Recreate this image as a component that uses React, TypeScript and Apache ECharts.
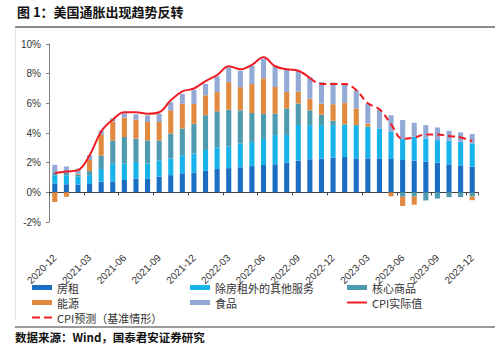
import React, { useEffect, useRef } from "react";
import * as echarts from "echarts";

const months = [
  "2020-12", "2021-01", "2021-02", "2021-03", "2021-04", "2021-05", "2021-06", "2021-07", "2021-08", "2021-09", "2021-10", "2021-11",
  "2021-12", "2022-01", "2022-02", "2022-03", "2022-04", "2022-05", "2022-06", "2022-07", "2022-08", "2022-09", "2022-10", "2022-11",
  "2022-12", "2023-01", "2023-02", "2023-03", "2023-04", "2023-05", "2023-06", "2023-07", "2023-08", "2023-09", "2023-10", "2023-11",
  "2023-12",
];

const rent = [0.6, 0.55, 0.52, 0.56, 0.72, 0.73, 0.83, 0.94, 0.94, 1.05, 1.16, 1.28, 1.34, 1.45, 1.57, 1.63, 1.68, 1.77, 1.84, 1.89, 2.0, 2.14, 2.23, 2.27, 2.33, 2.38, 2.29, 2.29, 2.29, 2.25, 2.18, 2.14, 2.07, 2.0, 1.89, 1.82, 1.73];
const otherServices = [0.55, 0.6, 0.55, 0.6, 0.85, 1.2, 1.1, 1.1, 1.0, 1.1, 1.12, 1.22, 1.28, 1.4, 1.45, 1.47, 1.61, 1.63, 1.75, 1.97, 1.86, 2.4, 2.3, 2.26, 2.2, 2.2, 2.24, 2.13, 2.02, 1.83, 1.42, 1.61, 1.57, 1.52, 1.59, 1.59, 1.57];
const coreGoods = [0.15, 0.15, 0.12, 0.27, 0.9, 1.55, 1.8, 1.58, 1.56, 1.35, 1.68, 1.8, 2.0, 2.35, 2.44, 2.47, 2.24, 1.95, 1.7, 1.45, 1.79, 1.45, 1.0, 0.7, 0.3, 0, 0, 0, 0, 0, -0.3, -0.28, -0.55, -0.42, -0.33, -0.32, -0.28];
const energy = [-0.65, -0.3, 0.05, 0.75, 1.4, 1.3, 1.3, 1.28, 1.24, 1.24, 1.57, 1.67, 1.34, 1.34, 1.3, 1.86, 1.56, 1.95, 2.4, 1.79, 1.12, 0.8, 0.78, 0.75, 1.11, 1.45, 1.12, 0.22, 0, -0.27, -0.62, -0.55, 0, 0, 0, 0, -0.25];
const food = [0.55, 0.45, 0.36, 0.32, 0.3, 0.22, 0.3, 0.36, 0.45, 0.56, 0.55, 0.67, 0.94, 0.77, 1.05, 1.0, 1.11, 1.25, 1.3, 1.45, 1.5, 1.4, 1.45, 1.46, 1.46, 1.34, 1.23, 1.34, 1.27, 1.12, 1.27, 0.94, 0.89, 0.85, 0.67, 0.63, 0.63];
const cpiActual = [1.3, 1.4, 1.5, 2.5, 4.1, 4.9, 5.4, 5.4, 5.3, 5.4, 6.2, 6.8, 7.0, 7.5, 7.9, 8.5, 8.3, 8.6, 9.1, 8.5, 8.3, 8.2, 7.7, null, null, null, null, null, null, null, null, null, null, null, null, null, null];
const cpiForecast = [null, null, null, null, null, null, null, null, null, null, null, null, null, null, null, null, null, null, null, null, null, null, 7.7, 7.3, 7.3, 7.3, 6.9, 6.0, 5.6, 4.6, 3.6, 3.7, 3.9, 3.9, 3.8, 3.7, 3.45];

const CJK = '"Noto Sans CJK SC", "Liberation Sans", sans-serif';
const LAT = '"Liberation Sans", Arial, sans-serif';

const SOLID_ICON = "path://M0,0h20v2h-20z";
const DASH_ICON = "path://M0,0h8v2h-8zM12,0h8v2h-8z";

export default function App() {
  const ref = useRef<HTMLDivElement>(null);
  useEffect(() => {
    const chart = echarts.init(ref.current!, null, { renderer: "svg" });
    const barBase = { type: "bar", stack: "total", barWidth: "44%" };
    const legendBase = {
      orient: "vertical",
      top: 277,
      itemGap: 4,
      itemWidth: 20,
      itemHeight: 5,
      textStyle: { fontSize: 11, color: "#333", fontFamily: CJK, lineHeight: 11 },
    };
    const red = "#F01C24";
    chart.setOption({
      animation: false,
      grid: { left: 49, right: 22, top: 44, bottom: 127 },
      legend: [
        {
          ...legendBase,
          left: 27,
          data: [
            { name: "房租", icon: "rect" },
            { name: "能源", icon: "rect" },
            { name: "CPI预测（基准情形）", icon: DASH_ICON, itemStyle: { color: red } },
          ],
        },
        { ...legendBase, left: 185, data: [{ name: "除房租外的其他服务", icon: "rect" }, { name: "食品", icon: "rect" }] },
        {
          ...legendBase,
          left: 342,
          data: [
            { name: "核心商品", icon: "rect" },
            { name: "CPI实际值", icon: SOLID_ICON, itemStyle: { color: red } },
          ],
        },
      ],
      xAxis: {
        type: "category",
        data: months,
        boundaryGap: true,
        axisLine: { onZero: true, lineStyle: { color: "#404040", width: 1 } },
        axisTick: { show: true, interval: 2, length: 3, lineStyle: { color: "#404040" } },
        axisLabel: { interval: 2, rotate: 45, margin: 34, fontSize: 10, color: "#333", fontFamily: LAT },
      },
      yAxis: {
        type: "value",
        min: -2,
        max: 10,
        interval: 2,
        axisLine: { show: true, lineStyle: { color: "#808080" } },
        axisTick: { show: true, length: 3, lineStyle: { color: "#808080" } },
        splitLine: { show: false },
        axisLabel: { formatter: "{value}%", fontSize: 10, color: "#333", fontFamily: LAT, margin: 8 },
      },
      series: [
        { ...barBase, name: "房租", data: rent, itemStyle: { color: "#1B6EC2" } },
        { ...barBase, name: "除房租外的其他服务", data: otherServices, itemStyle: { color: "#19B3EC" } },
        { ...barBase, name: "核心商品", data: coreGoods, itemStyle: { color: "#4E9BB0" } },
        { ...barBase, name: "能源", data: energy, itemStyle: { color: "#E1893F" } },
        { ...barBase, name: "食品", data: food, itemStyle: { color: "#93A9D6" } },
        {
          type: "line",
          name: "CPI实际值",
          data: cpiActual,
          smooth: 0.4,
          symbol: "none",
          connectNulls: false,
          lineStyle: { color: red, width: 2 },
          itemStyle: { color: red },
          z: 5,
        },
        {
          type: "line",
          name: "CPI预测（基准情形）",
          data: cpiForecast,
          smooth: 0.4,
          symbol: "none",
          connectNulls: false,
          lineStyle: { color: red, width: 2, type: [7, 4] },
          itemStyle: { color: red },
          z: 5,
        },
      ],
      graphic: [
        { type: "text", left: 17, top: 5, style: { text: "图 1：美国通胀出现趋势反转", font: `bold 13px ${CJK}`, fill: "#111" } },
        { type: "line", shape: { x1: 15, y1: 27, x2: 495, y2: 27 }, style: { stroke: "#8c8c8c", lineWidth: 2 } },
        { type: "line", shape: { x1: 15.5, y1: 29, x2: 15.5, y2: 320 }, style: { stroke: "#e4e4e4", lineWidth: 1 } },
        { type: "line", shape: { x1: 15, y1: 327, x2: 495, y2: 327 }, style: { stroke: "#777", lineWidth: 1.5 } },
        { type: "text", left: 15, top: 331, style: { text: "数据来源：Wind，国泰君安证券研究", font: `bold 11.5px ${CJK}`, fill: "#111" } },
      ],
    });
    return () => chart.dispose();
  }, []);
  return <div ref={ref} style={{ position: "absolute", left: 0, top: 0, width: 500, height: 349 }} />;
}
